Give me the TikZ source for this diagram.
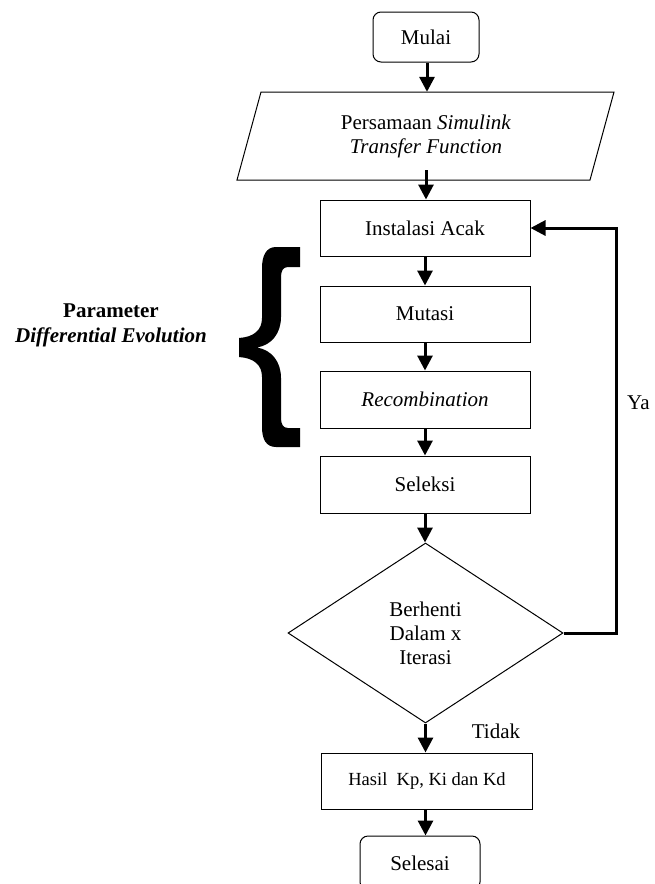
\documentclass[tikz,border=0pt]{standalone}
\usepackage{fontspec}
\setmainfont{Liberation Serif}
\usetikzlibrary{arrows.meta,shapes.geometric}
\begin{document}
\begin{tikzpicture}[x=1pt,y=-1pt,
  box/.style={draw,line width=1pt,minimum width=210pt,minimum height=56pt,inner sep=0pt,font=\fontsize{21}{24}\selectfont,align=center},
  term/.style={draw,line width=1pt,rounded corners=8pt,inner sep=0pt,font=\fontsize{21}{24}\selectfont},
  flow/.style={line width=3pt,-{Triangle[length=15pt,width=15pt]}},
  lbl/.style={font=\fontsize{21}{24}\selectfont,inner sep=0pt}
]
\useasboundingbox (0,0) rectangle (654,884);

% start
\node[term,minimum width=106pt,minimum height=50pt] (mulai) at (426,37) {Mulai};

% input parallelogram
\draw[line width=1pt] (261,92) -- (614,92) -- (590,180) -- (237,180) -- cycle;
\node[lbl,minimum width=300pt,minimum height=88pt,align=center] (inp) at (426,136)
  {Persamaan \textit{Simulink}\\\textit{Transfer Function}};

% process boxes
\node[box] (inst) at (425,228) {Instalasi Acak};
\node[box] (mut) at (425,314) {Mutasi};
\node[box,minimum height=57pt] (rec) at (425,399.5) {\textit{Recombination}};
\node[box,minimum height=57pt] (sel) at (425,484.5) {Seleksi};

% decision
\node[draw,diamond,line width=1pt,minimum width=275pt,minimum height=180pt,inner sep=0pt,
  font=\fontsize{21}{24}\selectfont,align=center] (dia) at (425.5,633)
  {Berhenti\\Dalam x\\Iterasi};

% result
\node[box,minimum width=211pt,font=\fontsize{18.5}{22}\selectfont] (hasil) at (427,781) {Hasil\ \ Kp, Ki dan Kd};
\node[term,minimum width=120pt,minimum height=54pt] (selesai) at (420,863) {Selesai};

% labels
\node[lbl] (tidak) at (496,731) {Tidak};
\node[lbl,anchor=west] (ya) at (627,403) {Ya};
\node[lbl,align=center,font=\fontsize{21}{25}\selectfont\bfseries] (param) at (111,325)
  {Parameter\\\textit{Differential Evolution}};

% brace
\fill (300,247) -- (276,247) .. controls (266,247) and (262,256) .. (262,268) -- (262,318)
  .. controls (262,330) and (254,337) .. (239,338) -- (239,357)
  .. controls (254,358) and (262,365) .. (262,377) -- (262,427)
  .. controls (262,439) and (266,447) .. (276,447) -- (300,447) -- (300,428) -- (288,428)
  .. controls (283,428) and (281,424) .. (281,418) -- (281,378)
  .. controls (281,362) and (272,350) .. (257,347.5)
  .. controls (272,345) and (281,333) .. (281,317) -- (281,277)
  .. controls (281,271) and (283,267) .. (288,267) -- (300,267) -- cycle;

% connectors
\coordinate (fb) at (616,633);
\draw[flow] (mulai.south -| 427,0) -- (inp.north -| 427,0);
\draw[flow] ([yshift=10pt]inp.south -| 426,0) -- (inst.north -| 426,0);
\draw[flow] (inst.south) -- (mut.north);
\draw[flow] (mut.south) -- (rec.north);
\draw[flow] (rec.south) -- (sel.north);
\draw[flow] (sel.south) -- (dia.north -| sel.south);
\draw[flow] (dia.south) -- (hasil.north -| dia.south);
\draw[flow] (hasil.south -| dia.south) -- (selesai.north -| dia.south);
\draw[flow] (dia.east) -- (fb) |- (inst.east);
\end{tikzpicture}
\end{document}
